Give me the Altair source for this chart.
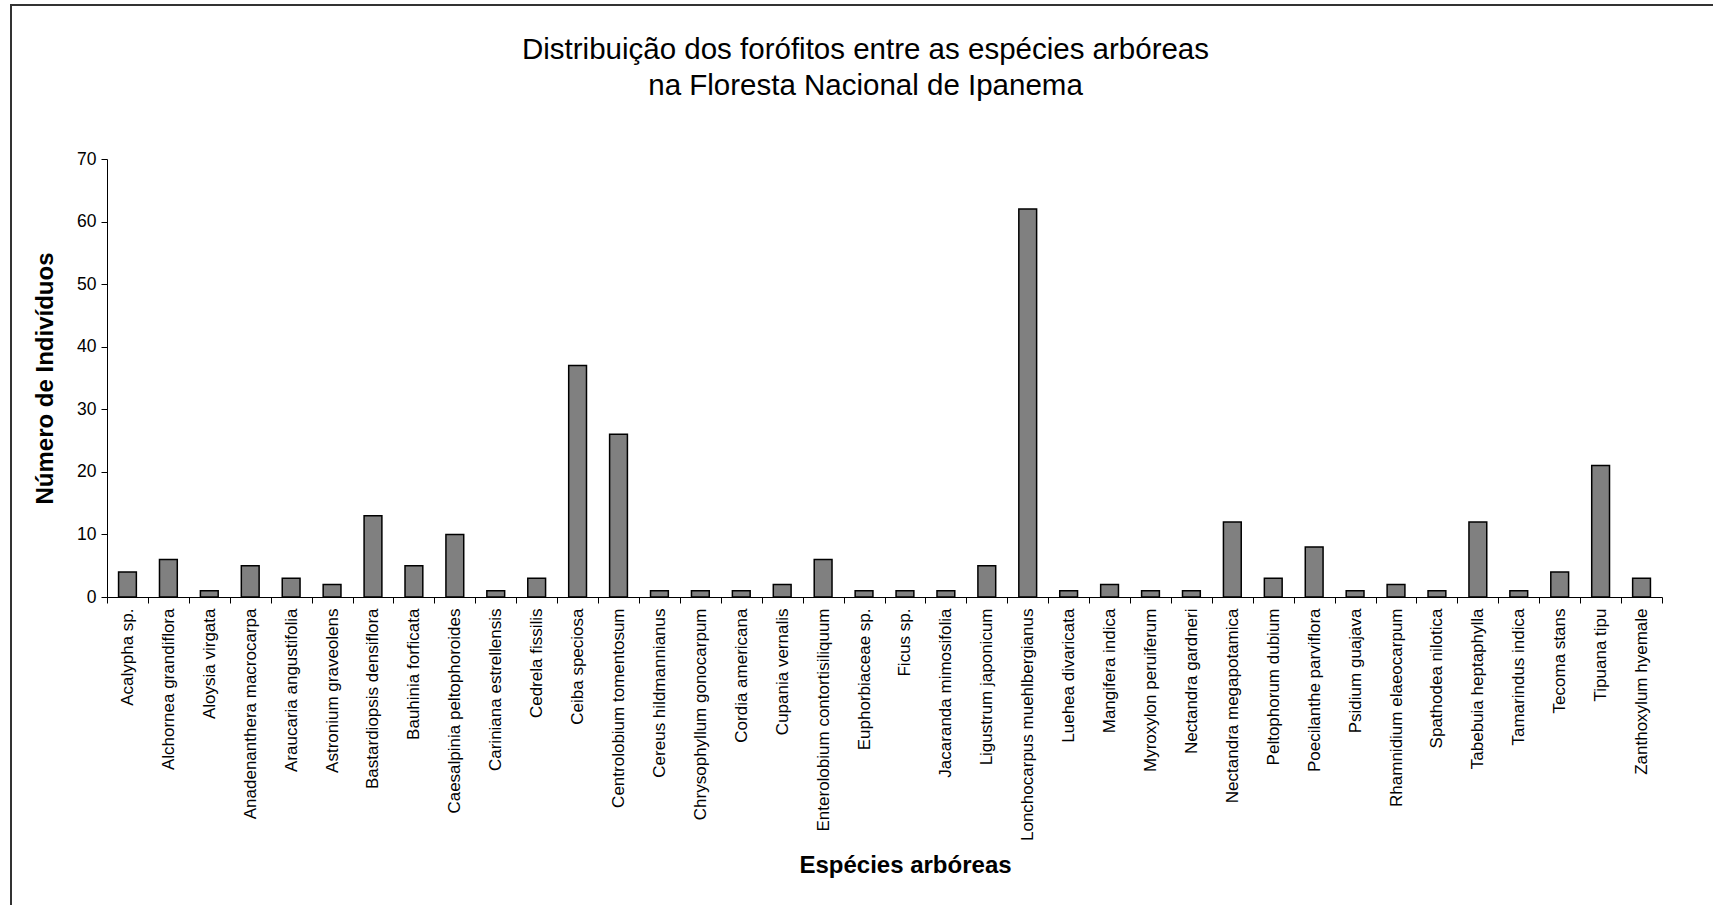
import altair as alt
import pandas as pd

# Tree species (phorophytes) and number of individuals of each
species = [
    "Acalypha sp.", "Alchornea grandiflora", "Aloysia virgata",
    "Anadenanthera macrocarpa", "Araucaria angustifolia", "Astronium graveolens",
    "Bastardiopsis densiflora", "Bauhinia forficata", "Caesalpinia peltophoroides",
    "Cariniana estrellensis", "Cedrela fissilis", "Ceiba speciosa",
    "Centrolobium tomentosum", "Cereus hildmannianus", "Chrysophyllum gonocarpum",
    "Cordia americana", "Cupania vernalis", "Enterolobium contortisiliquum",
    "Euphorbiaceae sp.", "Ficus sp.", "Jacaranda mimosifolia",
    "Ligustrum japonicum", "Lonchocarpus muehlbergianus", "Luehea divaricata",
    "Mangifera indica", "Myroxylon peruiferum", "Nectandra gardneri",
    "Nectandra megapotamica", "Peltophorum dubium", "Poecilanthe parviflora",
    "Psidium guajava", "Rhamnidium elaeocarpum", "Spathodea nilotica",
    "Tabebuia heptaphylla", "Tamarindus indica", "Tecoma stans",
    "Tipuana tipu", "Zanthoxylum hyemale",
]
individuals = [
    4, 6, 1,
    5, 3, 2,
    13, 5, 10,
    1, 3, 37,
    26, 1, 1,
    1, 2, 6,
    1, 1, 1,
    5, 62, 1,
    2, 1, 1,
    12, 3, 8,
    1, 2, 1,
    12, 1, 4,
    21, 3,
]
y_ticks = [0, 10, 20, 30, 40, 50, 60, 70]

title_lines = [
    "Distribuição dos forófitos entre as espécies arbóreas",
    "na Floresta Nacional de Ipanema",
]

FONT = "Liberation Sans"
W, H = 1555, 438

df = pd.DataFrame({"especie": species, "n": individuals})

bars = alt.Chart(df).mark_bar(
    color="#808080",
    stroke="#000000",
    strokeWidth=1.5,
    width=alt.RelativeBandSize(0.435),
).encode(
    x=alt.X(
        "especie:N",
        sort=species,
        scale=alt.Scale(paddingInner=0, paddingOuter=0),
        axis=alt.Axis(
            title="Espécies arbóreas",
            labelAngle=-90,
            labelFont=FONT,
            labelFontSize=17,
            labelColor="#000000",
            labelPadding=5,
            labelLimit=400,
            tickBand="extent",
            tickSize=6,
            tickColor="#000000",
            domainColor="#000000",
            titleFont=FONT,
            titleFontSize=24,
            titleFontWeight="bold",
            titleColor="#000000",
            titleAnchor="start",
            titleAlign="center",
            titleBaseline="alphabetic",
            titleX=798,
            titleY=275,
        ),
    ),
    y=alt.Y(
        "n:Q",
        scale=alt.Scale(domain=[0, 70], nice=False),
        axis=alt.Axis(
            values=y_ticks,
            title="Número de Indivíduos",
            grid=False,
            labelFont=FONT,
            labelFontSize=17.5,
            labelColor="#000000",
            labelPadding=5,
            tickSize=6,
            tickColor="#000000",
            domainColor="#000000",
            titleFont=FONT,
            titleFontSize=24,
            titleFontWeight="bold",
            titleColor="#000000",
            titleAngle=270,
            titleAlign="center",
            titleBaseline="middle",
            titleX=-62,
            titleY=H / 2,
        ),
    ),
)

# Outer frame of the chart area
frame = alt.Chart(alt.Data(values=[{"k": 0}])).mark_rect(
    fill=None, stroke="#333333", strokeWidth=2
).encode(
    x=alt.value(-96),
    x2=alt.value(W + 80),
    y=alt.value(-154),
    y2=alt.value(H + 340),
)

chart = alt.layer(frame, bars).properties(
    width=W,
    height=H,
    autosize=alt.AutoSizeParams(type="none"),
    padding={"left": 107, "top": 159, "right": 51, "bottom": 308},
    background="#ffffff",
    title=alt.TitleParams(
        text=title_lines,
        font=FONT,
        fontSize=29.5,
        fontWeight="normal",
        color="#000000",
        anchor="middle",
        frame="group",
        dx=-19,
        dy=120,
        lineHeight=36,
        baseline="alphabetic",
        offset=0,
    ),
).configure_view(stroke=None)

chart.save("out.html", embed_options={"renderer": "svg", "actions": False})
